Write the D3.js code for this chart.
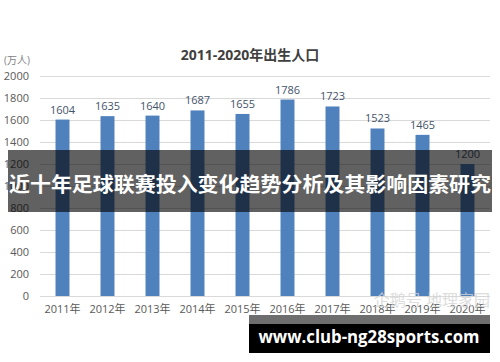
<!DOCTYPE html>
<html>
<head>
<meta charset="utf-8">
<script src="https://cdn.jsdelivr.net/npm/d3@7"></script>
<style>
	html, body { margin: 0; padding: 0; background: #fff; }
	svg { display: block; }
	text { font-family: "Open Sans", "Noto Sans CJK SC", sans-serif; }
</style>
</head>
<body>
<svg id="chart" width="500" height="362"></svg>
<script>
// births per year (10k people)
var years = ["2011年", "2012年", "2013年", "2014年", "2015年", "2016年", "2017年", "2018年", "2019年", "2020年"];
var births = [1604, 1635, 1640, 1687, 1655, 1786, 1723, 1523, 1465, 1200];
var yTicks = [0, 200, 400, 600, 800, 1000, 1200, 1400, 1600, 1800, 2000];

var chartTitle = "2011-2020年出生人口";
var unitLabel = "(万人)";
var bannerText = "近十年足球联赛投入变化趋势分析及其影响因素研究";
var siteText = "www.club-ng28sports.com";
var watermark = "企鹅号 地理家园";

var svg = d3.select("#chart");
var margin = {top: 76, right: 10, bottom: 66, left: 40};
var width = 500 - margin.left - margin.right,
	height = 362 - margin.top - margin.bottom;

var x = d3.scaleBand()
	.domain(years)
	.range([0, width])
	.paddingInner(0.69)
	.paddingOuter(0.345);

var y = d3.scaleLinear()
	.domain([0, 2000])
	.range([height, 0]);

var g = svg.append("g")
	.attr("transform", "translate(" + margin.left + "," + margin.top + ")");

// gridlines
g.append("g").attr("class", "grid")
	.selectAll("line")
	.data(yTicks)
	.enter().append("line")
	.attr("x1", 0)
	.attr("x2", width)
	.attr("y1", function(d) { return Math.round(y(d)) + 0.5; })
	.attr("y2", function(d) { return Math.round(y(d)) + 0.5; })
	.attr("stroke", "#d9d9d9")
	.attr("stroke-width", 1);

// y tick labels
var yAxis = g.append("g")
	.call(d3.axisLeft(y).tickValues(yTicks).tickFormat(d3.format("d")).tickSize(0).tickPadding(11));
yAxis.select(".domain").remove();
yAxis.selectAll("text")
	.attr("fill", "#595959")
	.style("font-size", "11px");

// x labels
var xAxis = g.append("g")
	.attr("transform", "translate(0," + height + ")")
	.call(d3.axisBottom(x).tickSize(0).tickPadding(9));
xAxis.select(".domain").remove();
xAxis.selectAll("text")
	.attr("fill", "#595959")
	.style("font-size", "11px");

// bars
g.selectAll("rect.bar")
	.data(births)
	.enter().append("rect")
	.attr("class", "bar")
	.attr("x", function(d, i) { return x(years[i]); })
	.attr("width", x.bandwidth())
	.attr("y", function(d) { return y(d); })
	.attr("height", function(d) { return height - y(d); })
	.attr("fill", "#4f81bd");

// value labels
g.selectAll("text.value")
	.data(births)
	.enter().append("text")
	.attr("class", "value")
	.attr("x", function(d, i) { return x(years[i]) + x.bandwidth() / 2; })
	.attr("y", function(d) { return y(d) - 6; })
	.attr("text-anchor", "middle")
	.attr("fill", "#44546a")
	.style("font-size", "11px")
	.text(function(d) { return d; });

// title + unit
svg.append("text")
	.attr("x", 250)
	.attr("y", 60)
	.attr("text-anchor", "middle")
	.attr("fill", "#404040")
	.style("font-size", "14px")
	.style("font-weight", "bold")
	.text(chartTitle);

svg.append("text")
	.attr("x", 4)
	.attr("y", 64)
	.attr("fill", "#7f7f7f")
	.style("font-size", "10px")
	.text(unitLabel);

// watermark
svg.append("text")
	.attr("x", 490)
	.attr("y", 306)
	.attr("text-anchor", "end")
	.attr("fill", "#d4d4d4")
	.attr("fill-opacity", 0.8)
	.style("font-size", "16px")
	.text(watermark);

// dark banner over the chart
svg.append("rect")
	.attr("x", 8)
	.attr("y", 150)
	.attr("width", 484)
	.attr("height", 62)
	.attr("fill", "rgba(0,0,0,0.62)");

svg.append("text")
	.attr("x", 250)
	.attr("y", 192)
	.attr("text-anchor", "middle")
	.attr("fill", "#fff")
	.attr("textLength", 482)
	.attr("lengthAdjust", "spacingAndGlyphs")
	.style("font-size", "20px")
	.style("font-weight", "bold")
	.text(bannerText);

// site banner bottom right
svg.append("rect")
	.attr("x", 249)
	.attr("y", 315)
	.attr("width", 241)
	.attr("height", 9)
	.attr("fill", "#6e6e6e");
svg.append("rect")
	.attr("x", 249)
	.attr("y", 324)
	.attr("width", 241)
	.attr("height", 29)
	.attr("fill", "#000");
svg.append("text")
	.attr("x", 369)
	.attr("y", 343)
	.attr("text-anchor", "middle")
	.attr("fill", "#fff")
	.attr("textLength", 221)
	.attr("lengthAdjust", "spacingAndGlyphs")
	.style("font-size", "17px")
	.style("font-weight", "bold")
	.text(siteText);
</script>
</body>
</html>
